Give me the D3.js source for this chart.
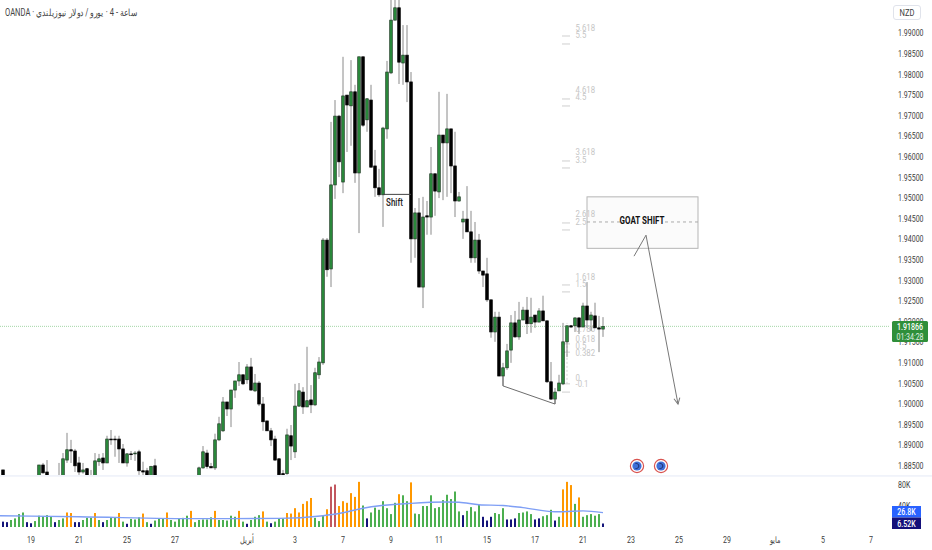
<!DOCTYPE html>
<html><head><meta charset="utf-8">
<script src="https://cdn.jsdelivr.net/npm/d3@7"></script>
<style>html,body{margin:0;padding:0;background:#fff;overflow:hidden}svg{display:block}</style>
</head><body><svg id="c" width="932" height="550"></svg>
<script>
// bar index 0 is the first bar at the left edge; null = the bar lies below the visible price pane
const opens=[null,1.8838,null,null,null,null,null,null,null,null,
1.8821,1.8850,1.8833,null,null,1.8821,1.8821,1.8862,1.8887,1.8884,
1.8855,1.8833,1.8841,1.8821,1.8821,1.8858,1.8867,1.8855,1.8913,1.8913,
1.8913,1.8889,1.8855,1.8877,1.8877,1.8882,1.8836,1.8836,1.8821,1.8848,
null,null,null,null,null,null,null,null,null,null,
1.8821,1.8843,1.8879,1.8846,1.8843,1.8911,1.8933,1.9003,1.8986,1.9032,
1.9054,1.9069,1.9057,1.9088,1.9030,1.9049,1.8998,1.8957,1.8933,1.8913,
1.8865,1.8829,1.8829,1.8921,1.8882,1.8993,1.9027,1.8991,1.9008,1.8996,
1.9069,1.9098,1.9396,1.9326,1.9530,1.9697,1.9537,1.9748,1.9722,1.9756,
1.9559,1.9841,1.9688,1.9736,1.9576,1.9523,1.9506,1.9666,1.9802,1.9930,
1.9960,1.9826,1.9845,1.9780,1.9399,1.9462,1.9282,1.9455,1.9452,1.9557,
1.9513,1.9651,1.9632,1.9666,1.9576,1.9491,1.9440,1.9447,1.9416,1.9353,
1.9396,1.9321,1.9314,1.9251,1.9173,1.9209,1.9066,1.9086,1.9129,1.9195,
1.9161,1.9202,1.9226,1.9193,1.9214,1.9197,1.9224,1.9200,1.9052,1.9010,
1.9030,1.9047,1.9149,1.9188,1.9188,1.9207,1.9185,1.9236,1.9202,1.9212,
1.9183,1.9180];
const highs=[null,1.8838,null,null,null,null,null,null,null,null,
1.8850,1.8855,1.8862,null,null,1.8855,1.8879,1.8928,1.8911,1.8889,
1.8870,1.8855,1.8843,1.8838,1.8879,1.8877,1.8879,1.8921,1.8935,1.8921,
1.8921,1.8901,1.8879,1.8884,1.8884,1.8887,1.8858,1.8843,1.8848,1.8865,
null,null,null,null,null,null,null,null,null,null,
1.8846,1.8896,1.8887,1.8855,1.8926,1.8967,1.9015,1.9003,1.9032,1.9054,
1.9100,1.9069,1.9095,1.9110,1.9071,1.9054,1.9015,1.8957,1.8940,1.8921,
1.8867,1.8838,1.8938,1.8947,1.9047,1.9049,1.9039,1.9137,1.9044,1.9086,
1.9112,1.9401,1.9401,1.9683,1.9736,1.9700,1.9841,1.9748,1.9833,1.9773,
1.9841,1.9841,1.9741,1.9773,1.9615,1.9569,1.9671,1.9831,2.0003,2.0000,
2.0000,1.9918,1.9918,1.9804,1.9474,1.9498,1.9501,1.9491,1.9622,1.9557,
1.9756,1.9651,1.9751,1.9666,1.9659,1.9513,1.9467,1.9527,1.9467,1.9440,
1.9411,1.9321,1.9353,1.9251,1.9222,1.9222,1.9098,1.9144,1.9214,1.9224,
1.9246,1.9234,1.9258,1.9256,1.9214,1.9231,1.9261,1.9200,1.9100,1.9037,
1.9069,1.9195,1.9188,1.9190,1.9209,1.9209,1.9244,1.9294,1.9222,1.9244,
1.9212,1.9209];
const lows=[null,1.8821,null,null,null,null,null,null,null,null,
1.8821,1.8829,1.8821,null,null,1.8821,1.8821,1.8855,1.8855,1.8833,
1.8826,1.8829,1.8821,1.8821,1.8821,1.8848,1.8838,1.8855,1.8899,1.8870,
1.8855,1.8855,1.8846,1.8862,1.8860,1.8826,1.8821,1.8821,1.8821,1.8821,
null,null,null,null,null,null,null,null,null,null,
1.8821,1.8841,1.8841,1.8843,1.8838,1.8908,1.8930,1.8969,1.8942,1.9013,
1.9042,1.9044,1.9047,1.9030,1.9027,1.8993,1.8933,1.8933,1.8896,1.8860,
1.8821,1.8821,1.8826,1.8862,1.8867,1.8991,1.8974,1.8991,1.8976,1.8993,
1.9059,1.9093,1.9307,1.9282,1.9496,1.9549,1.9510,1.9610,1.9625,1.9535,
1.9413,1.9671,1.9659,1.9573,1.9501,1.9501,1.9428,1.9642,1.9799,1.9930,
1.9775,1.9773,1.9731,1.9341,1.9353,1.9282,1.9231,1.9409,1.9409,1.9455,
1.9498,1.9493,1.9501,1.9510,1.9452,1.9489,1.9399,1.9416,1.9341,1.9341,
1.9314,1.9282,1.9246,1.9159,1.9149,1.9066,1.9042,1.9081,1.9098,1.9159,
1.9154,1.9202,1.9168,1.9171,1.9183,1.9197,1.9200,1.9049,1.9008,1.8998,
1.9030,1.9044,1.9112,1.9183,1.9173,1.9168,1.9185,1.9183,1.9175,1.9183,
1.9124,1.9161];
const closes=[null,1.8821,null,null,null,null,null,null,null,null,
1.8850,1.8831,1.8821,null,null,1.8821,1.8865,1.8887,1.8884,1.8848,
1.8833,1.8838,1.8821,1.8821,1.8860,1.8865,1.8855,1.8913,1.8911,1.8911,
1.8889,1.8855,1.8877,1.8875,1.8879,1.8836,1.8833,1.8821,1.8846,1.8821,
null,null,null,null,null,null,null,null,null,null,
1.8843,1.8882,1.8846,1.8843,1.8911,1.8950,1.9003,1.8986,1.9032,1.9054,
1.9069,1.9047,1.9088,1.9032,1.9049,1.8998,1.8955,1.8933,1.8911,1.8862,
1.8826,1.8826,1.8923,1.8896,1.8993,1.9030,1.8991,1.9006,1.8996,1.9074,
1.9100,1.9396,1.9324,1.9530,1.9697,1.9586,1.9746,1.9724,1.9756,1.9559,
1.9841,1.9675,1.9739,1.9573,1.9523,1.9506,1.9668,1.9804,1.9930,1.9960,
1.9828,1.9845,1.9780,1.9399,1.9462,1.9282,1.9452,1.9452,1.9557,1.9515,
1.9651,1.9632,1.9666,1.9576,1.9491,1.9501,1.9447,1.9416,1.9353,1.9396,
1.9321,1.9311,1.9251,1.9173,1.9209,1.9066,1.9086,1.9127,1.9195,1.9161,
1.9202,1.9226,1.9193,1.9209,1.9197,1.9224,1.9200,1.9052,1.9010,1.9027,
1.9049,1.9149,1.9188,1.9185,1.9207,1.9185,1.9236,1.9202,1.9214,1.9183,
1.9180,1.91866];
// volume in thousands, and the colour class of each volume bar
const volumes=[25,10,9,13,16,24,27,9,7,11,21,20,22,20,9,13,16,27,26,9,
9,13,17,17,26,13,9,13,17,18,26,10,6,15,14,18,25,9,6,12,
16,16,27,13,10,16,17,21,30,9,13,14,14,18,30,13,13,12,21,19,
30,10,6,13,19,22,29,10,7,10,15,16,26,25,35,27,43,48,54,17,
11,21,33,75,79,39,48,45,63,56,84,40,16,27,36,32,48,35,24,45,
61,59,48,83,25,24,39,39,59,35,37,50,60,52,66,29,22,30,37,29,
41,19,12,19,26,24,35,14,14,16,26,27,29,24,14,16,20,22,32,12,
19,70,84,78,43,55,19,22,24,21,24,6.52];
const volumeKinds=("gnnggggnng"+"ggggnggoon"+"ngggognggg"+"ogngggogng"+"ggogggggog"+"ggggoggggg"+"ogngggogng"+"ggooooooog"
 +"ggorrooooo"+"ognggggggg"+"oggogggggg"+"ggggggnggg"+"gnnngggnnn"+"ggggnngggn"+"gooogogggg"+"gn").split("");
const maBars=[0,20,50,70,81,85,91,103,112,115,120,126,131,139,141,146,151];
const maValues=[21,19,15.5,16,21,25,35,44,46.5,46,41.5,40,36,28.5,28.5,30,26.8];
const priceTicks=d3.range(0,22).map(k=>+(1.885+k*0.005).toFixed(3));
const volumeTicks=[40,80];
const timeBars=[8,20,32,44,62,74,86,98,110,122,134,146,158,170,182,194,206,218];
const timeLabels=["19","21","25","27","أبريل","3","7","9","11","15","17","21","23","25","29","مايو","5","7"];
const fibDashes=[1.98915,1.98721,1.97386,1.97216,1.95881,1.95711,1.94376,1.94206,1.92871,1.92702,1.9144,1.9124,1.9047,1.9027];
const fibNames=["5.618","5.5","4.618","4.5","3.618","3.5","2.618","2.5","1.618","1.5","0.786","0.618","0.5","0.382","0","-0.1"];
const fibPrices=[1.9911,1.9894,1.9760,1.9743,1.9610,1.9591,1.9460,1.9440,1.9307,1.9290,1.9180,1.9156,1.9139,1.9122,1.9061,1.9047];
const lastPrice=1.91866, lastVolume=6.52, volumeAverage=26.8;
const titleText="ساعة - 4 · يورو / دولار نيوزيلندي · OANDA";

const svg=d3.select("#c");
const FONT="Roboto,'Noto Sans',sans-serif", SQ=0.74;
const x=d3.scaleLinear().domain([0,151]).range([-1,603]);
const y=d3.scaleLinear().domain([1.885,1.99]).range([465,32.5]);
const v=d3.scaleLinear().domain([0,80]).range([527,484]);
const defs=svg.append("defs");
defs.append("clipPath").attr("id","pane").append("rect").attr("width",890).attr("height",475);
const m=defs.append("marker").attr("id","ah").attr("markerUnits","userSpaceOnUse").attr("markerWidth",10).attr("markerHeight",10).attr("refX",8).attr("refY",5).attr("orient","auto");
m.append("path").attr("d","M2,2L8,5L2,8").attr("fill","none").attr("stroke","#777").attr("stroke-width",1);

function label(g,px,py,str,o={}){
  return g.append("text").attr("transform",`translate(${px},${py}) scale(${o.sx||SQ},1)`)
    .attr("text-anchor",o.anchor||"start").attr("dominant-baseline","central")
    .attr("font-family",o.family||FONT).attr("font-size",o.size||9.5).attr("font-weight",o.weight||400)
    .attr("fill",o.fill||"#3d3d3d").text(str);
}

const pane=svg.append("g").attr("clip-path","url(#pane)");
// last price line
pane.append("line").attr("x1",0).attr("x2",890).attr("y1",y(lastPrice)).attr("y2",y(lastPrice))
  .attr("stroke","#a5d6a7").attr("stroke-width",1).attr("stroke-dasharray","1 1");

// goat shift box
const bx0=x(147),bx1=x(174.75);
pane.append("rect").attr("x",bx0).attr("y",y(1.9501)).attr("width",bx1-bx0).attr("height",y(1.9376)-y(1.9501))
  .attr("fill","#fbfbfb").attr("stroke","#b5b5b5").attr("stroke-width",1);
pane.append("line").attr("x1",bx0).attr("x2",bx1).attr("y1",y(1.944)).attr("y2",y(1.944))
  .attr("stroke","#aaa").attr("stroke-dasharray","3 3");
pane.append("rect").attr("x",x(156)).attr("width",x(166)-x(156)).attr("y",y(1.9458)).attr("height",y(1.9422)-y(1.9458)).attr("fill","#fbfbfb");
label(pane,642,y(1.9443),"GOAT SHIFT",{anchor:"middle",weight:700,size:10,fill:"#111",sx:.8});
pane.append("path").attr("d",d3.line().x(d=>x(d[0])).y(d=>y(d[1]))([[158.75,1.9357],[161.75,1.9408],[169.75,1.8998]]))
  .attr("fill","none").attr("stroke","#777").attr("stroke-width",1).attr("marker-end","url(#ah)");

// fib levels
pane.selectAll(".fd").data(fibDashes).join("line").attr("x1",x(141)-1).attr("x2",x(141)+7)
  .attr("y1",d=>y(d)).attr("y2",d=>y(d)).attr("stroke","#cfcfcf").attr("stroke-width",1);
pane.append("line").attr("x1",x(142)).attr("x2",x(142)).attr("y1",y(1.9047)).attr("y2",y(1.9195))
  .attr("stroke","#d5d5d5").attr("stroke-dasharray","2 2");
fibNames.forEach((t,i)=>label(pane,575.5,y(fibPrices[i]),t,{fill:"#c6c6c6",size:9.5,sx:.82}));

// candles
const bars=opens.map((o,i)=>({i,o,h:highs[i],l:lows[i],c:closes[i]})).filter(d=>d.o!==null);
pane.selectAll(".w").data(bars).join("line").attr("x1",d=>x(d.i)).attr("x2",d=>x(d.i))
  .attr("y1",d=>y(d.h)).attr("y2",d=>y(d.l)).attr("stroke","#8a8a8a").attr("stroke-width",1);
pane.selectAll(".b").data(bars).join("rect").attr("x",d=>x(d.i)-1.3).attr("width",2.6)
  .attr("y",d=>y(Math.max(d.o,d.c))).attr("height",d=>Math.max(0.6,Math.abs(y(d.o)-y(d.c))))
  .attr("fill",d=>d.c>=d.o?"#2a8c3c":"#000").attr("stroke",d=>d.c>=d.o?"#1f3a24":"#000").attr("stroke-width",.7);

// drawings
pane.append("line").attr("x1",x(96)).attr("x2",x(103)).attr("y1",y(1.9507)).attr("y2",y(1.9507)).attr("stroke","#444").attr("stroke-width",1);
label(pane,394.5,y(1.9487),"Shift",{anchor:"middle",size:10,weight:500,fill:"#222",sx:.8});
pane.append("path").attr("d",d3.line().x(d=>x(d[0])).y(d=>y(d[1]))([[126,1.9066],[126,1.9042],[139,1.8998],[139,1.9010]]))
  .attr("fill","none").attr("stroke","#6d6d6d").attr("stroke-width",1);

// event badges
[159.5,165.5].forEach(n=>{
  const g=pane.append("g").attr("transform",`translate(${x(n)},466)`);
  g.append("circle").attr("r",6.6).attr("fill","#fff").attr("stroke","#d9534f").attr("stroke-width",1.2);
  g.append("circle").attr("r",4.6).attr("fill","#3f6fd8");
  g.append("path").attr("d","M-1.5,-2.5A2.6,2.6 0 1 1 -1.5,2.5").attr("fill","none").attr("stroke","#1d2f6b").attr("stroke-width",1);
});

// pane separator
svg.append("rect").attr("x",0).attr("y",475).attr("width",932).attr("height",1.8).attr("fill","#f0f3fa");

// volume
const vc={g:"#4caf50",n:"#14147a",o:"#ff9800",r:"#c2575f"};
svg.selectAll(".v").data(volumes).join("rect").attr("x",(d,i)=>x(i)-1).attr("width",2)
  .attr("y",d=>v(d)).attr("height",d=>v(0)-v(d)).attr("fill",(d,i)=>vc[volumeKinds[i]]);
const ma=d3.line().x((d,i)=>x(maBars[i])).y(d=>v(d)).curve(d3.curveMonotoneX);
svg.append("path").attr("d",ma(maValues)).attr("fill","none").attr("stroke","#7f9ff5").attr("stroke-width",1.4);

// axes
const ay=svg.append("g").attr("transform","translate(898,0)").call(d3.axisRight(y).tickValues(priceTicks).tickSize(0).tickFormat(d3.format(".5f")));
const av=svg.append("g").attr("transform","translate(898,0)").call(d3.axisRight(v).tickValues(volumeTicks).tickSize(0).tickFormat(d=>d+"K"));
[ay,av].forEach(a=>{a.select(".domain").remove();
 a.selectAll("text").attr("x",0).attr("dy",null).attr("dominant-baseline","central").attr("transform",`scale(${SQ},1)`)
  .attr("font-family",FONT).attr("font-size",9.5).attr("fill","#3d3d3d");});
const ax=svg.append("g").attr("transform","translate(-0.5,540)").call(d3.axisBottom(x).tickValues(timeBars).tickSize(0).tickFormat((d,i)=>timeLabels[i]));
ax.select(".domain").remove();
ax.selectAll("text").attr("y",0).attr("x",0).attr("dy",null).attr("dominant-baseline","central").attr("transform",`scale(${SQ},1)`)
  .attr("font-family",FONT).attr("font-size",9.5).attr("fill","#3d3d3d");

// NZD button
svg.append("rect").attr("x",893.5).attr("y",5.5).attr("width",27).attr("height",14).attr("rx",2.5).attr("fill","#fff").attr("stroke","#e0e3eb");
label(svg,907,12.5,"NZD",{anchor:"middle",size:9.5,sx:.8});

// last price tag
svg.append("rect").attr("x",892).attr("y",321).attr("width",36).attr("height",21).attr("rx",1.5).attr("fill","#2f8f3a");
label(svg,910,327,d3.format(".5f")(lastPrice),{anchor:"middle",fill:"#fff",weight:500});
label(svg,910,337,"01:34:28",{anchor:"middle",fill:"#e3f2e5"});

// volume tags
svg.append("rect").attr("x",892).attr("y",506).attr("width",29).attr("height",11.5).attr("fill","#2962ff");
label(svg,906.5,512,volumeAverage+"K",{anchor:"middle",fill:"#fff",weight:500});
svg.append("rect").attr("x",892).attr("y",517.5).attr("width",29).attr("height",11.5).attr("fill","#14107a");
label(svg,906.5,523.5,lastVolume+"K",{anchor:"middle",fill:"#fff",weight:500});

// title
svg.append("text").attr("transform","translate(5,12.5) scale(.76,1)").attr("direction","rtl").attr("text-anchor","end")
  .attr("dominant-baseline","central").attr("font-family",FONT).attr("font-size",10).attr("fill","#444").text(titleText);
</script></body></html>
